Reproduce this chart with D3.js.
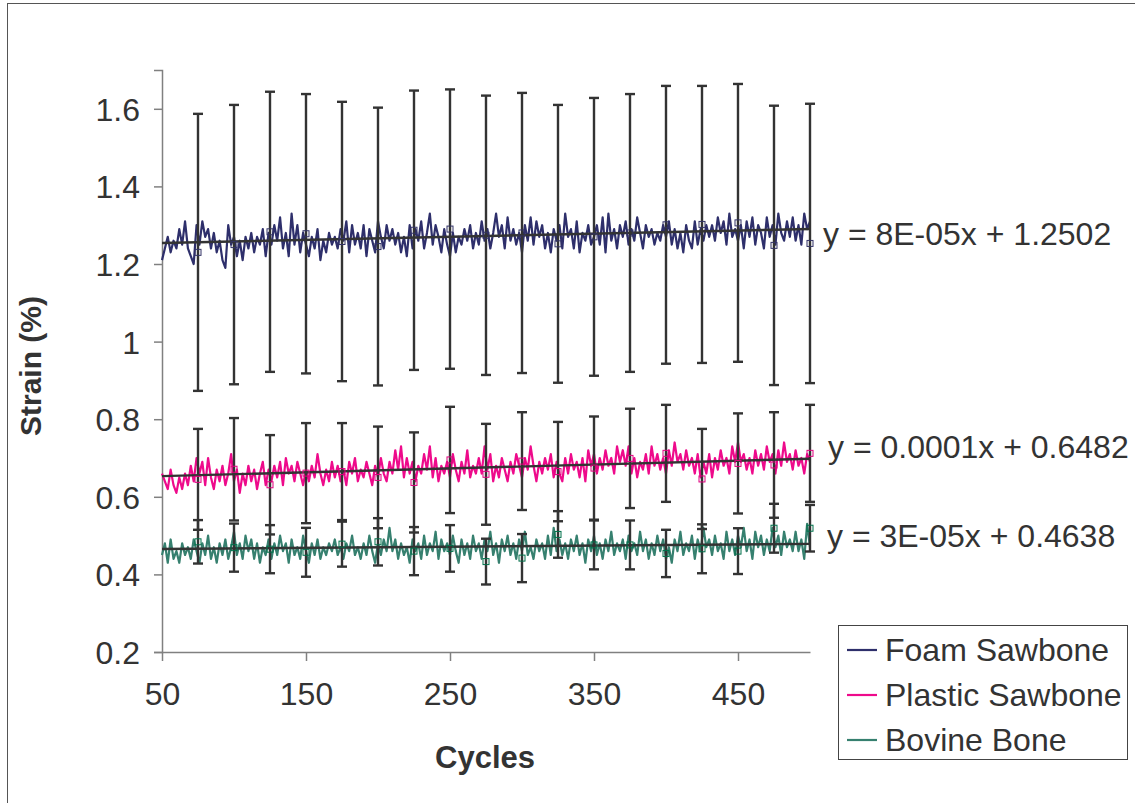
<!DOCTYPE html>
<html>
<head>
<meta charset="utf-8">
<script src="https://cdn.jsdelivr.net/npm/d3@7"></script>
<style>
  body { margin: 0; background: #fff; }
  svg text { font-family: "Liberation Sans", Arial, sans-serif; fill: #333; }
</style>
</head>
<body>
<svg id="chart" width="1135" height="803"></svg>
<script>
// Strain (%) over cycles for three bone models

// x values of the traces (one reading every 2 cycles)
var cycles = d3.range(50, 501, 2);

var foam = [
  1.21, 1.24, 1.27, 1.23, 1.26, 1.24, 1.29, 1.25, 1.31, 1.24,
  1.22, 1.20, 1.30, 1.25, 1.31, 1.27, 1.29, 1.24, 1.28, 1.23,
  1.26, 1.21, 1.19, 1.30, 1.25, 1.27, 1.22, 1.26, 1.21, 1.27,
  1.24, 1.28, 1.23, 1.27, 1.25, 1.29, 1.22, 1.28, 1.25, 1.30,
  1.26, 1.32, 1.24, 1.28, 1.22, 1.33, 1.25, 1.30, 1.23, 1.28,
  1.25, 1.22, 1.27, 1.24, 1.29, 1.21, 1.26, 1.23, 1.28, 1.25,
  1.27, 1.24, 1.29, 1.26, 1.31, 1.23, 1.30, 1.25, 1.28, 1.24,
  1.30, 1.22, 1.29, 1.26, 1.23, 1.31, 1.27, 1.24, 1.30, 1.26,
  1.29, 1.25, 1.28, 1.23, 1.27, 1.22, 1.30, 1.24, 1.29, 1.26,
  1.31, 1.24, 1.28, 1.33, 1.25, 1.30, 1.27, 1.23, 1.29, 1.25,
  1.22, 1.28, 1.23, 1.27, 1.25, 1.29, 1.26, 1.30, 1.24, 1.28,
  1.25, 1.31, 1.26, 1.29, 1.24, 1.28, 1.33, 1.27, 1.30, 1.24,
  1.32, 1.26, 1.29, 1.25, 1.28, 1.23, 1.30, 1.26, 1.32, 1.25,
  1.31, 1.27, 1.30, 1.24, 1.28, 1.23, 1.29, 1.26, 1.30, 1.24,
  1.33, 1.27, 1.29, 1.24, 1.31, 1.23, 1.28, 1.26, 1.30, 1.25,
  1.27, 1.30, 1.25, 1.32, 1.23, 1.33, 1.26, 1.29, 1.24, 1.30,
  1.27, 1.31, 1.25, 1.29, 1.26, 1.32, 1.28, 1.24, 1.30, 1.27,
  1.29, 1.25, 1.28, 1.26, 1.30, 1.27, 1.31, 1.25, 1.29, 1.24,
  1.28, 1.23, 1.30, 1.26, 1.24, 1.31, 1.25, 1.29, 1.26, 1.30,
  1.27, 1.30, 1.26, 1.32, 1.28, 1.31, 1.25, 1.33, 1.27, 1.29,
  1.26, 1.30, 1.24, 1.31, 1.27, 1.32, 1.25, 1.30, 1.28, 1.24,
  1.32, 1.27, 1.30, 1.25, 1.33, 1.28, 1.26, 1.31, 1.27, 1.32,
  1.26, 1.30, 1.25, 1.33, 1.29, 1.31
];

var plastic = [
  0.66, 0.64, 0.62, 0.67, 0.63, 0.61, 0.65, 0.62, 0.66, 0.63,
  0.68, 0.64, 0.70, 0.66, 0.69, 0.63, 0.70, 0.65, 0.62, 0.67,
  0.64, 0.68, 0.63, 0.66, 0.71, 0.64, 0.67, 0.61, 0.66, 0.63,
  0.68, 0.64, 0.67, 0.62, 0.66, 0.69, 0.63, 0.67, 0.64, 0.68,
  0.65, 0.69, 0.63, 0.70, 0.66, 0.68, 0.64, 0.69, 0.66, 0.63,
  0.67, 0.64, 0.68, 0.65, 0.71, 0.66, 0.63, 0.67, 0.64, 0.69,
  0.65, 0.68, 0.64, 0.67, 0.63, 0.69, 0.66, 0.70, 0.64, 0.67,
  0.65, 0.69, 0.66, 0.63, 0.68, 0.65, 0.70, 0.66, 0.64, 0.69,
  0.66, 0.72, 0.67, 0.73, 0.65, 0.70, 0.66, 0.69, 0.64, 0.68,
  0.66, 0.71, 0.67, 0.73, 0.65, 0.70, 0.64, 0.68, 0.66, 0.69,
  0.65, 0.71, 0.67, 0.64, 0.69, 0.66, 0.72, 0.65, 0.68, 0.66,
  0.70, 0.66, 0.73, 0.67, 0.71, 0.64, 0.68, 0.65, 0.70, 0.67,
  0.64, 0.69, 0.66, 0.71, 0.68, 0.65, 0.70, 0.67, 0.73, 0.68,
  0.64, 0.69, 0.66, 0.70, 0.67, 0.71, 0.65, 0.69, 0.66, 0.64,
  0.70, 0.66, 0.71, 0.67, 0.69, 0.65, 0.70, 0.64, 0.72, 0.68,
  0.71, 0.66, 0.70, 0.67, 0.72, 0.68, 0.70, 0.66, 0.73, 0.69,
  0.72, 0.68, 0.73, 0.66, 0.70, 0.65, 0.69, 0.67, 0.71, 0.66,
  0.73, 0.68, 0.71, 0.67, 0.70, 0.66, 0.72, 0.68, 0.74, 0.69,
  0.71, 0.67, 0.72, 0.68, 0.70, 0.66, 0.71, 0.65, 0.69, 0.66,
  0.71, 0.65, 0.70, 0.67, 0.72, 0.68, 0.70, 0.66, 0.73, 0.69,
  0.74, 0.69, 0.71, 0.67, 0.70, 0.66, 0.72, 0.68, 0.71, 0.67,
  0.73, 0.69, 0.71, 0.66, 0.72, 0.68, 0.74, 0.69, 0.71, 0.67,
  0.72, 0.68, 0.70, 0.66, 0.71, 0.69
];

var bovine = [
  0.45, 0.48, 0.43, 0.49, 0.44, 0.46, 0.43, 0.48, 0.45, 0.47,
  0.44, 0.49, 0.46, 0.43, 0.48, 0.45, 0.50, 0.44, 0.47, 0.43,
  0.48, 0.45, 0.49, 0.44, 0.47, 0.51, 0.45, 0.48, 0.44, 0.50,
  0.46, 0.49, 0.44, 0.48, 0.43, 0.47, 0.45, 0.49, 0.44, 0.48,
  0.45, 0.50, 0.46, 0.48, 0.43, 0.49, 0.45, 0.47, 0.44, 0.50,
  0.46, 0.43, 0.48, 0.45, 0.49, 0.44, 0.47, 0.45, 0.48, 0.46,
  0.49, 0.45, 0.47, 0.44, 0.48, 0.46, 0.50, 0.45, 0.47, 0.44,
  0.48, 0.45, 0.50, 0.46, 0.43, 0.48, 0.45, 0.49, 0.46, 0.52,
  0.46, 0.49, 0.44, 0.48, 0.45, 0.47, 0.43, 0.49, 0.46, 0.48,
  0.44, 0.50, 0.45, 0.48, 0.46, 0.51, 0.44, 0.49, 0.46, 0.48,
  0.45, 0.50, 0.46, 0.43, 0.49, 0.45, 0.48, 0.44, 0.50, 0.46,
  0.48, 0.44, 0.49, 0.46, 0.51, 0.45, 0.48, 0.43, 0.49, 0.46,
  0.50, 0.45, 0.48, 0.44, 0.49, 0.46, 0.51, 0.45, 0.47, 0.44,
  0.49, 0.46, 0.48, 0.44, 0.50, 0.45, 0.52, 0.46, 0.49, 0.45,
  0.48, 0.44, 0.49, 0.46, 0.50, 0.45, 0.48, 0.43, 0.49, 0.46,
  0.50, 0.45, 0.48, 0.44, 0.49, 0.46, 0.51, 0.45, 0.48, 0.46,
  0.49, 0.44, 0.50, 0.46, 0.48, 0.45, 0.51, 0.46, 0.49, 0.44,
  0.48, 0.45, 0.50, 0.46, 0.49, 0.44, 0.47, 0.43, 0.49, 0.46,
  0.51, 0.45, 0.48, 0.46, 0.50, 0.44, 0.49, 0.46, 0.52, 0.47,
  0.49, 0.45, 0.50, 0.46, 0.48, 0.44, 0.51, 0.46, 0.49, 0.45,
  0.50, 0.47, 0.52, 0.46, 0.49, 0.44, 0.51, 0.47, 0.50, 0.45,
  0.49, 0.46, 0.52, 0.47, 0.50, 0.45, 0.51, 0.47, 0.49, 0.46,
  0.51, 0.46, 0.49, 0.44, 0.53, 0.47
];

// error bars (mean +/- sd) every 25 cycles
var barCycles = [75, 100, 125, 150, 175, 200, 225, 250, 275, 300, 325, 350, 375, 400, 425, 450, 475, 500];
var foamMean = [1.230, 1.250, 1.283, 1.278, 1.258, 1.245, 1.287, 1.290, 1.274, 1.280, 1.252, 1.270, 1.280, 1.301, 1.302, 1.306, 1.248, 1.253];
var foamSd   = [0.357, 0.360, 0.361, 0.360, 0.360, 0.358, 0.360, 0.360, 0.360, 0.361, 0.358, 0.358, 0.358, 0.358, 0.357, 0.358, 0.360, 0.360];
var plasticMean = [0.645, 0.671, 0.631, 0.661, 0.665, 0.650, 0.637, 0.695, 0.658, 0.692, 0.665, 0.674, 0.699, 0.712, 0.646, 0.686, 0.682, 0.712];
var plasticSd   = [0.130, 0.132, 0.128, 0.129, 0.125, 0.131, 0.129, 0.137, 0.130, 0.126, 0.128, 0.133, 0.128, 0.125, 0.129, 0.129, 0.136, 0.125];
var bovineMean = [0.484, 0.469, 0.465, 0.457, 0.478, 0.484, 0.460, 0.467, 0.433, 0.442, 0.503, 0.476, 0.476, 0.454, 0.466, 0.460, 0.519, 0.519];
var bovineSd   = [0.056, 0.062, 0.062, 0.063, 0.058, 0.061, 0.062, 0.060, 0.059, 0.062, 0.060, 0.063, 0.063, 0.061, 0.063, 0.059, 0.063, 0.060];

// linear trend lines y = a*x + b
var trendSlope = [8e-5, 1e-4, 3e-5];
var trendIntercept = [1.2502, 0.6482, 0.4638];
var trendLabels = ["y = 8E-05x + 1.2502", "y = 0.0001x + 0.6482", "y = 3E-05x + 0.4638"];

var seriesNames = ["Foam Sawbone", "Plastic Sawbone", "Bovine Bone"];
var seriesColors = ["#2e2f6b", "#ee0a8b", "#36806f"];
var markerColors = ["#333366", "#e0007f", "#00704a"];

var xTicks = [50, 150, 250, 350, 450];
var yTicks = [0.2, 0.4, 0.6, 0.8, 1, 1.2, 1.4, 1.6];

var svg = d3.select("#chart");

// outer frame (right and bottom edges fall outside the picture)
svg.append("rect")
    .attr("x", 7.5).attr("y", 3.5)
    .attr("width", 1160).attr("height", 830)
    .attr("fill", "none")
    .attr("stroke", "#555")
    .attr("stroke-width", 1);

var x = d3.scaleLinear().domain([50, 500]).range([162, 810]);
var y = d3.scaleLinear().domain([0.2, 1.7]).range([652, 70]);

var plot = svg.append("g");

// axes
var yAxis = plot.append("g")
    .attr("transform", "translate(162,0)")
    .call(d3.axisLeft(y).tickValues(yTicks).tickSize(8).tickPadding(14)
        .tickFormat(d => d3.format("")(+d.toFixed(1))));
yAxis.select(".domain").attr("stroke", "#808080").attr("stroke-width", 1.5);
yAxis.selectAll(".tick line").attr("stroke", "#808080").attr("stroke-width", 1.5);
yAxis.selectAll(".tick text").attr("font-size", "32px").attr("fill", "#333").attr("dy", "0.36em");

var xAxis = plot.append("g")
    .attr("transform", "translate(0,652)")
    .call(d3.axisBottom(x).tickValues(xTicks).tickSize(9).tickPadding(21).tickSizeOuter(0));
xAxis.select(".domain").attr("stroke", "#808080").attr("stroke-width", 1.5);
xAxis.selectAll(".tick line").attr("stroke", "#808080").attr("stroke-width", 1.5);
xAxis.selectAll(".tick text").attr("font-size", "32px").attr("fill", "#333");

// traces
var allSeries = [foam, plastic, bovine];
var line = d3.line()
    .x((d, i) => x(cycles[i]))
    .y(d => y(d));

allSeries.forEach((values, k) => {
    plot.append("path")
        .datum(values)
        .attr("d", line)
        .attr("fill", "none")
        .attr("stroke", seriesColors[k])
        .attr("stroke-width", 2.2)
        .attr("stroke-linejoin", "round");
});

// error bars
var means = [foamMean, plasticMean, bovineMean];
var sds = [foamSd, plasticSd, bovineSd];
var bars = plot.append("g").attr("stroke", "#333").attr("stroke-width", 2.4);

means.forEach((m, k) => {
    barCycles.forEach((c, i) => {
        var top = m[i] + sds[k][i];
        var bot = m[i] - sds[k][i];
        bars.append("line")
            .attr("x1", x(c)).attr("x2", x(c))
            .attr("y1", y(top)).attr("y2", y(bot));
        [top, bot].forEach(v => {
            bars.append("line")
                .attr("x1", x(c) - 5).attr("x2", x(c) + 5)
                .attr("y1", y(v)).attr("y2", y(v));
        });
    });
});

// trend lines
trendSlope.forEach((a, k) => {
    var xd = x.domain();
    plot.append("line")
        .attr("x1", x(xd[0])).attr("y1", y(a * xd[0] + trendIntercept[k]))
        .attr("x2", x(xd[1])).attr("y2", y(a * xd[1] + trendIntercept[k]))
        .attr("stroke", "#333")
        .attr("stroke-width", 2.4);
});

// mean markers (hollow squares)
means.forEach((m, k) => {
    plot.append("g").selectAll("rect")
        .data(m)
        .enter()
        .append("rect")
        .attr("x", (d, i) => x(barCycles[i]) - 3)
        .attr("y", d => y(d) - 3)
        .attr("width", 6).attr("height", 6)
        .attr("fill", "none")
        .attr("stroke", markerColors[k])
        .attr("stroke-width", 1);
});

// trend equations
var eqPos = [[823, 245], [828, 458], [827, 547]];
trendLabels.forEach((t, k) => {
    svg.append("text")
        .attr("x", eqPos[k][0]).attr("y", eqPos[k][1])
        .attr("font-size", "32px")
        .text(t);
});

// axis titles
svg.append("text")
    .attr("x", 485).attr("y", 768)
    .attr("text-anchor", "middle")
    .attr("font-size", "31px")
    .attr("font-weight", "bold")
    .text("Cycles");

svg.append("text")
    .attr("transform", "translate(41,366) rotate(-90)")
    .attr("text-anchor", "middle")
    .attr("font-size", "30px")
    .attr("font-weight", "bold")
    .text("Strain (%)");

// legend
var legend = svg.append("g");
legend.append("rect")
    .attr("x", 838.5).attr("y", 625.5)
    .attr("width", 289).attr("height", 134)
    .attr("fill", "#fff")
    .attr("stroke", "#444")
    .attr("stroke-width", 1);

seriesNames.forEach((name, k) => {
    var ly = 650 + k * 45;
    legend.append("line")
        .attr("x1", 847).attr("x2", 877)
        .attr("y1", ly).attr("y2", ly)
        .attr("stroke", seriesColors[k])
        .attr("stroke-width", 2.2);
    legend.append("text")
        .attr("x", 885).attr("y", ly + 11)
        .attr("font-size", "32px")
        .text(name);
});
</script>
</body>
</html>
